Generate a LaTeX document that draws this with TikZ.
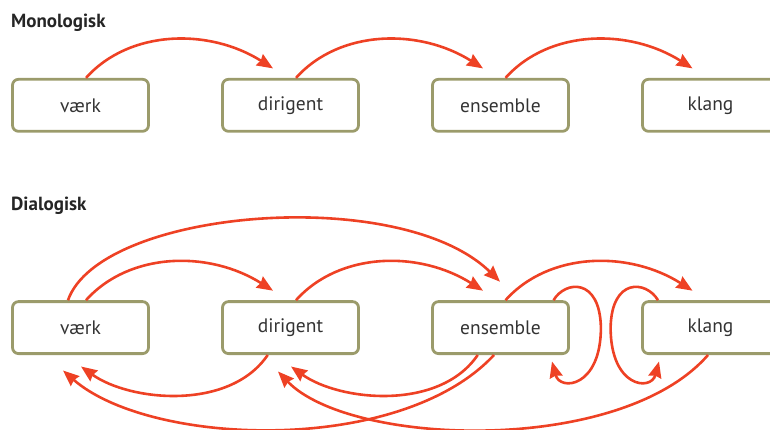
\documentclass[tikz,border=0pt]{standalone}
\usepackage{fontspec}
\setmainfont{PT Sans}
\usetikzlibrary{arrows.meta,calc}
\definecolor{boxline}{HTML}{9B9B6B}
\definecolor{flow}{HTML}{EE4124}
\definecolor{ink}{HTML}{333333}
\definecolor{headink}{HTML}{252525}
\tikzset{
  stage/.style={draw=boxline, line width=2.8pt, rounded corners=6pt,
    minimum width=136pt, minimum height=52pt, inner sep=0pt,
    font=\fontsize{19.5pt}{21pt}\selectfont, text=ink},
  heading/.style={anchor=base west, inner sep=0pt,
    font=\fontsize{19pt}{21pt}\selectfont\bfseries, text=headink},
  flowline/.style={draw=flow, line width=2.6pt,
    -{Stealth[length=16pt,width=13pt,inset=1.5pt]}},
}
\begin{document}
\begin{tikzpicture}[x=1pt,y=-1pt]
\useasboundingbox (0,0) rectangle (770,430);
\clip (0,0) rectangle (770,430);

% ---------- monological chain ----------
\node[heading] (h1) at (11,27.5) {Monologisk};
\node[stage] (v1) at (80.5,105.3) {værk};
\node[stage] (d1) at (290.5,105.3) {dirigent};
\node[stage] (e1) at (500.5,105.3) {ensemble};
\node[stage] (k1) at (710.5,105.3) {klang};

\draw[flowline] ($(v1.north)+(5.5,0)$) .. controls +(44,-49) and +(-63,-40) .. ($(d1.north)+(-17.5,-9.5)$);
\draw[flowline] ($(d1.north)+(5.5,0)$) .. controls +(44,-49) and +(-63,-40) .. ($(e1.north)+(-17.5,-9.5)$);
\draw[flowline] ($(e1.north)+(5,0)$) .. controls +(44,-49) and +(-63,-40) .. ($(k1.north)+(-18,-9.5)$);

% ---------- dialogical network ----------
\node[heading] (h2) at (11,211) {Dialogisk};
\node[stage] (v2) at (80.5,327.6) {værk};
\node[stage] (d2) at (290.5,327.6) {dirigent};
\node[stage] (e2) at (500.5,327.6) {ensemble};
\node[stage] (k2) at (710.5,327.6) {klang};

% forward arcs above the boxes
\draw[flowline] ($(v2.north)+(-12.5,0)$) .. controls +(32,-91) and +(-100,-98) .. ($(e2.north)+(-0.5,-18.5)$);
\draw[flowline] ($(v2.north)+(5.5,0)$) .. controls +(44,-49) and +(-63,-40) .. ($(d2.north)+(-17.5,-9.5)$);
\draw[flowline] ($(d2.north)+(5.5,0)$) .. controls +(44,-49) and +(-63,-40) .. ($(e2.north)+(-17.5,-9.5)$);
\draw[flowline] ($(e2.north)+(5,0)$) .. controls +(44,-49) and +(-63,-40) .. ($(k2.north)+(-18,-9.5)$);

% self loops between ensemble and klang
\coordinate (eloop) at ($(e2.east)+(31,0)$);
\coordinate (kloop) at ($(k2.west)+(-30.5,0)$);
\draw[flowline] ($(e2.north)+(53,0)$) .. controls +(12,-20) and +(-1,-50) .. (eloop)
  .. controls +(0,60) and +(8,30) .. ($(e2.south)+(51.5,6.5)$);
\draw[flowline] ($(k2.north)+(-52.5,0)$) .. controls +(-12,-20) and +(1,-50) .. (kloop)
  .. controls +(0,60) and +(-8,30) .. ($(k2.south)+(-51.5,6.5)$);

% backward arcs below the boxes
\draw[flowline] ($(d2.south)+(-22.8,0)$) .. controls +(-38,56) and +(49,35) .. ($(v2.south)+(0.5,11.5)$);
\draw[flowline] ($(e2.south)+(-22.8,0)$) .. controls +(-38,56) and +(49,35) .. ($(d2.south)+(0.5,11.5)$);
\draw[flowline] ($(e2.south)+(-6.5,0)$) .. controls +(-94,101) and +(87,76) .. ($(v2.south)+(-17.5,15.5)$);
\draw[flowline] ($(k2.south)+(-2.5,0)$) .. controls +(-88,101) and +(72,75) .. ($(d2.south)+(-12.5,16.5)$);
\end{tikzpicture}
\end{document}
